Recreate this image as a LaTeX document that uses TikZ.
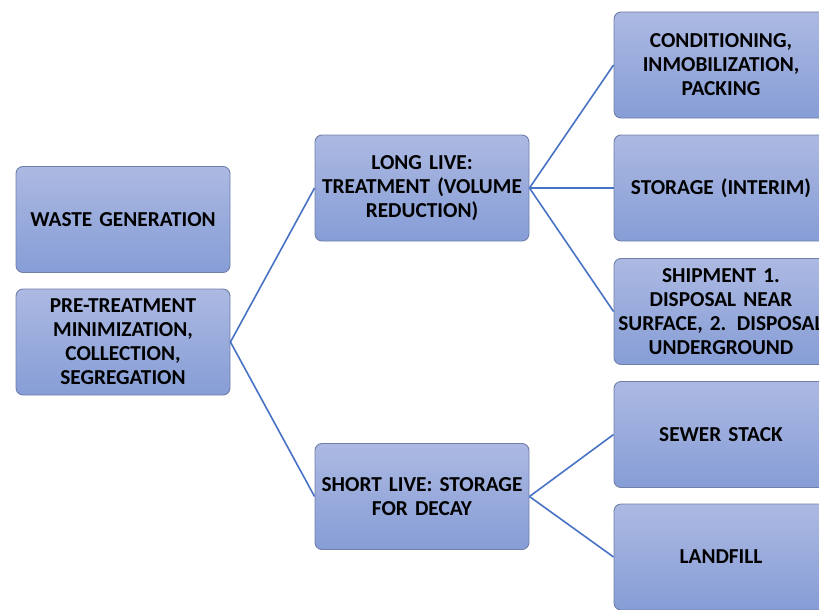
\documentclass[tikz,border=0pt]{standalone}
\usepackage{fontspec}
\setmainfont{Carlito}[WordSpace=0.8]
\definecolor{boxtop}{RGB}{172,185,226}
\definecolor{boxbot}{RGB}{134,157,214}
\definecolor{boxline}{RGB}{112,128,170}
\definecolor{conn}{RGB}{72,114,196}
\tikzset{
  stepbox/.style={rounded corners=7pt, draw=boxline, line width=0.9pt,
    top color=boxtop, bottom color=boxbot, minimum width=214pt, minimum height=106pt,
    text width=205pt, align=center, inner sep=0pt,
    font=\fontsize{21.3}{24}\selectfont\bfseries, text=black},
  conn/.style={draw=conn, line width=1.6pt}
}
\begin{document}
\begin{tikzpicture}[x=1pt,y=-1pt]
\useasboundingbox (0,0) rectangle (819,610);
\node[stepbox] (waste) at (123,219.5) {WASTE GENERATION};
\node[stepbox] (pre) at (123,342) {PRE-TREATMENT\\MINIMIZATION,\\COLLECTION,\\SEGREGATION};
\node[stepbox] (long) at (422,188) {LONG LIVE:\\TREATMENT (VOLUME\\REDUCTION)};
\node[stepbox] (short) at (422,496.5) {SHORT LIVE: STORAGE\\FOR DECAY};
\node[stepbox] (cond) at (721,65) {CONDITIONING,\\INMOBILIZATION,\\PACKING};
\node[stepbox] (stor) at (721,188) {STORAGE (INTERIM)};
\node[stepbox] (ship) at (721,311.5) {SHIPMENT 1.\\DISPOSAL NEAR\\\makebox[205pt][c]{SURFACE, 2. DISPOSAL}\\UNDERGROUND};
\node[stepbox] (sewer) at (721,434.5) {SEWER STACK};
\node[stepbox] (land) at (721,557) {LANDFILL};
\draw[conn] (pre.east) -- (long.west);
\draw[conn] (pre.east) -- (short.west);
\draw[conn] (long.east) -- (cond.west);
\draw[conn] (long.east) -- (stor.west);
\draw[conn] (long.east) -- (ship.west);
\draw[conn] (short.east) -- (sewer.west);
\draw[conn] (short.east) -- (land.west);
\end{tikzpicture}
\end{document}
